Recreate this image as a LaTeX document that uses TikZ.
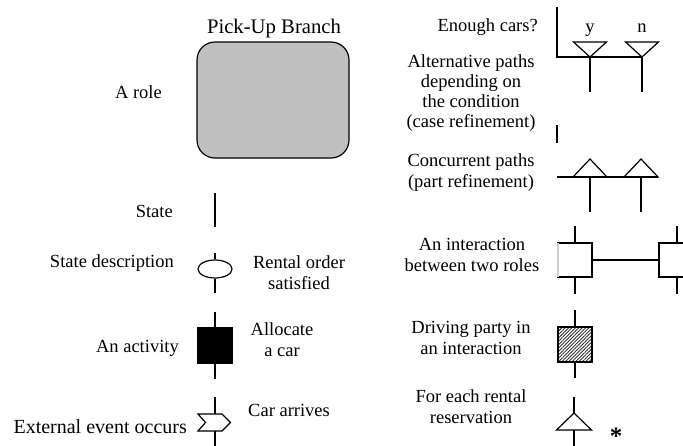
\documentclass[tikz,border=0pt]{standalone}
\usepackage{fontspec}
\setmainfont{Liberation Serif}
\usetikzlibrary{shapes.geometric,patterns.meta}
\definecolor{rolegray}{RGB}{192,192,192}

\begin{document}
\begin{tikzpicture}[x=1pt,y=-1pt,
  ln/.style={line width=1.2pt},
  lbl/.style={inner sep=0pt, align=center, font=\fontsize{18.5}{20.5}\selectfont},
  blk/.style={draw, line width=1.2pt, minimum width=34pt, minimum height=34pt,
              inner sep=0pt, outer sep=0pt}]
\useasboundingbox (0,0) rectangle (683,445);

% ---------- left column: labels (multi-line labels sit on their last baseline) ----------
\node[lbl, anchor=base, font=\fontsize{20.7}{22}\selectfont] (tbranch) at (274,33) {Pick-Up Branch};
\node[lbl, anchor=base east] (trole)   at (162,98)  {A role};
\node[lbl, anchor=base east] (tstate)  at (173,217) {State};
\node[lbl, anchor=base east] (tsd)     at (174,267) {State description};
\node[lbl, anchor=base]      (trental) at (299,289) {Rental order\\satisfied};
\node[lbl, anchor=base east] (tact)    at (179,352) {An activity};
\node[lbl, anchor=base]      (talloc)  at (282,356) {Allocate\\a car};
\node[lbl, anchor=base west] (tcar)    at (248,416) {Car arrives};
\node[lbl, anchor=base east, font=\fontsize{20}{22}\selectfont] (text) at (187,433) {External event occurs};

% ---------- right column: labels ----------
\node[lbl, anchor=base east] (tenough) at (538,31)  {Enough cars?};
\node[lbl, anchor=base]      (ty)      at (590,32)  {y};
\node[lbl, anchor=base]      (tn)      at (642,32)  {n};
\node[lbl, anchor=base, font=\fontsize{18.5}{20}\selectfont] (talt) at (471,127) {Alternative paths\\depending on\\the condition\\(case refinement)};
\node[lbl, anchor=base]      (tconc)   at (471,187) {Concurrent paths\\(part refinement)};
\node[lbl, anchor=base]      (tinter)  at (472,271) {An interaction\\between two roles};
\node[lbl, anchor=base]      (tdrive)  at (471,354) {Driving party in\\an interaction};
\node[lbl, anchor=base]      (tfor)    at (471,423) {For each rental\\reservation};
\node[anchor=base, inner sep=0pt, font=\bfseries\fontsize{25}{25}\selectfont] (tstar) at (616,444.5) {*};

% ---------- role ----------
\node[draw, ln, fill=rolegray, rounded corners=18pt, minimum width=152pt,
      minimum height=116pt] (role) at (273,100) {};

% ---------- state ----------
\coordinate (s1) at (215,193);
\coordinate (s2) at (215,227);
\draw[ln] (s1) -- (s2);

% ---------- state description ----------
\node[draw, ln, ellipse, minimum width=34pt, minimum height=18pt, inner sep=0pt] (sd) at (215,269) {};
\coordinate (sdT) at (215,253);
\coordinate (sdB) at (215,293);
\draw[ln] (sdT) -- (sd.north);
\draw[ln] (sd.south) -- (sdB);

% ---------- activity ----------
\node[blk, fill=black, minimum height=35pt] (act) at (215,345.5) {};
\coordinate (actT) at (215,312);
\coordinate (actB) at (215,379);
\draw[ln] (actT) -- (act.north);
\draw[ln] (act.south) -- (actB);

% ---------- external event ----------
\coordinate (evT)   at (215,397);
\coordinate (evTop) at (215,414);
\coordinate (evBot) at (215,431);
\coordinate (evB)   at (215,446);
\draw[ln] (198,414) -- (222,414) -- (230.5,422.5) -- (222,431) -- (198,431) -- (205.5,422.5) -- cycle;
\draw[ln] (evT) -- (evTop);
\draw[ln] (evBot) -- (evB);

% ---------- case refinement ----------
\coordinate (c0) at (557,7);
\coordinate (c1) at (557,57);
\coordinate (cy) at (590,57);
\coordinate (cn) at (642,57);
\coordinate (cyB) at (590,92);
\coordinate (cnB) at (642,92);
\draw[ln] (c0) -- (c1) -- (cn);
\draw[ln] (cy) -- ++(-16.5,-15) -- ++(33,0) -- cycle;
\draw[ln] (cn) -- ++(-16.5,-15) -- ++(33,0) -- cycle;
\draw[ln] (cy) -- (cyB);
\draw[ln] (cn) -- (cnB);

% ---------- part refinement ----------
\coordinate (p0) at (557,125);
\coordinate (p1) at (557,143);
\coordinate (p2) at (557,177);
\coordinate (pE) at (658,177);
\coordinate (py) at (590,177);
\coordinate (pn) at (641,177);
\coordinate (pyB) at (590,212);
\coordinate (pnB) at (641,212);
\draw[ln] (p0) -- (p1);
\draw[ln] (p2) -- (pE);
\draw[ln] (py) ++(-17,0) -- ++(17,-18) -- ++(17,18) -- cycle;
\draw[ln] (pn) ++(-17,0) -- ++(17,-18) -- ++(17,18) -- cycle;
\draw[ln] (py) -- (pyB);
\draw[ln] (pn) -- (pnB);

% ---------- interaction ----------
\node[blk] (ia) at (575,260) {};
\node[blk, minimum width=36pt] (ib) at (677,260) {};
\draw[line width=1.2pt, gray!35] (ia.south west) -- (ia.north west);
\draw[ln] (ia) -- (ib);
\coordinate (iaT) at (575,226);
\coordinate (iaB) at (575,294);
\coordinate (ibT) at (677,226);
\coordinate (ibB) at (677,294);
\draw[ln] (iaT) -- (ia.north);
\draw[ln] (ia.south) -- (iaB);
\draw[ln] (ibT) -- (ib.north);
\draw[ln] (ib.south) -- (ibB);

% ---------- driving party ----------
\node[blk, minimum height=35pt, pattern={Lines[angle=45,distance=2.4pt,line width=0.9pt]},
      pattern color=black!80] (dp) at (575,344.5) {};
\coordinate (dpT) at (575,310);
\coordinate (dpB) at (575,378);
\draw[ln] (dpT) -- (dp.north);
\draw[ln] (dp.south) -- (dpB);

% ---------- iteration ----------
\coordinate (fe)  at (574,413);
\coordinate (feT) at (574,397);
\coordinate (feM) at (574,430);
\coordinate (feB) at (574,446);
\draw[ln] (fe) -- (556.5,430) -- (591.5,430) -- cycle;
\draw[ln] (feT) -- (fe);
\draw[ln] (feM) -- (feB);
\end{tikzpicture}
\end{document}
